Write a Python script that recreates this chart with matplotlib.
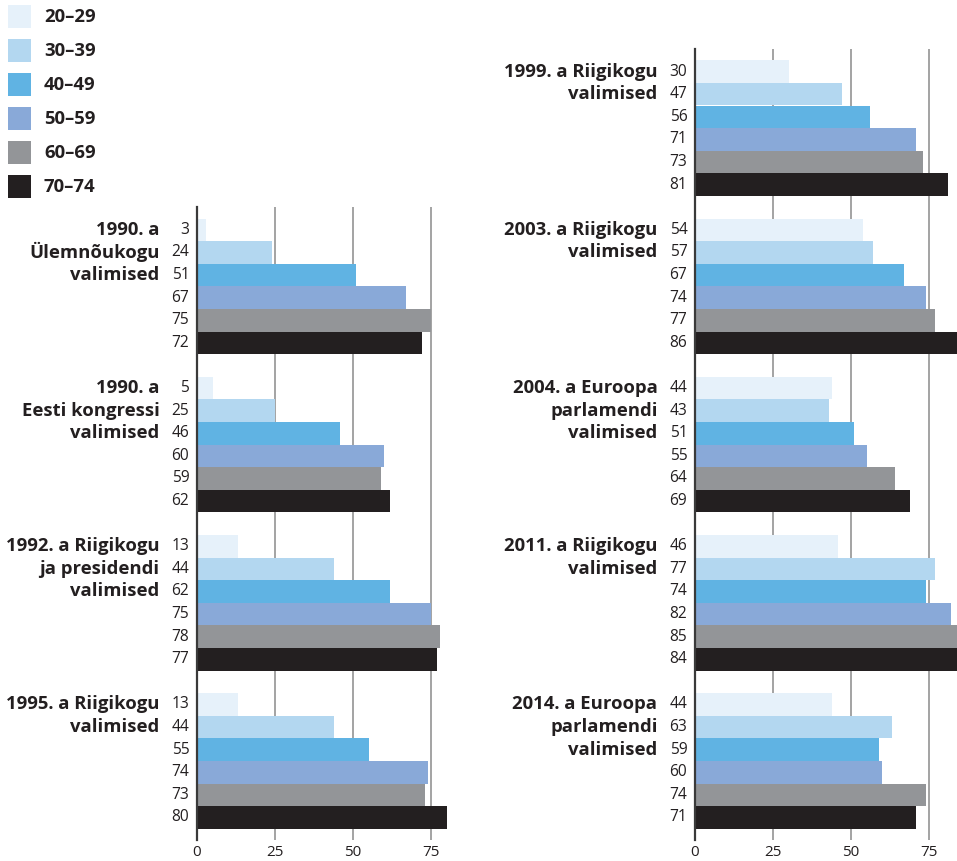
import matplotlib
matplotlib.use("Agg")
import matplotlib.pyplot as plt
from matplotlib.patches import Rectangle

plt.rcParams['font.family'] = ['Open Sans', 'DejaVu Sans']

age_groups = ["20–29", "30–39", "40–49", "50–59", "60–69", "70–74"]
colors = ["#e6f1fa", "#b3d7f0", "#60b3e3", "#89a9d8", "#939598", "#231f20"]

left_labels = [["1990. a", "Ülemnõukogu", "valimised"],
               ["1990. a", "Eesti kongressi", "valimised"],
               ["1992. a Riigikogu", "ja presidendi", "valimised"],
               ["1995. a Riigikogu", "valimised"]]
left_values = [[3, 24, 51, 67, 75, 72],
               [5, 25, 46, 60, 59, 62],
               [13, 44, 62, 75, 78, 77],
               [13, 44, 55, 74, 73, 80]]

right_labels = [["1999. a Riigikogu", "valimised"],
                ["2003. a Riigikogu", "valimised"],
                ["2004. a Euroopa", "parlamendi", "valimised"],
                ["2011. a Riigikogu", "valimised"],
                ["2014. a Euroopa", "parlamendi", "valimised"]]
right_values = [[30, 47, 56, 71, 73, 81],
                [54, 57, 67, 74, 77, 86],
                [44, 43, 51, 55, 64, 69],
                [46, 77, 74, 82, 85, 84],
                [44, 63, 59, 60, 74, 71]]

xticks = [0, 25, 50, 75]
TXT = "#231f20"

W, H = 957, 861
fig = plt.figure(figsize=(W / 100, H / 100), dpi=100)

def fx(px):
    return px / W

def fy(py):
    return 1 - py / H

def draw_panel(ax, labels, values, first_group):
    for g, (lab, vals) in enumerate(zip(labels, values)):
        base = (first_group + g) * 7
        ys = [base + i for i in range(len(vals))]
        ax.barh(ys, vals, height=1.0, color=colors, zorder=2, linewidth=0)
        for y, v in zip(ys, vals):
            ax.annotate(str(v), xy=(0, y), xytext=(-5.5, 0), textcoords='offset points',
                        ha='right', va='center', fontsize=11.2, color=TXT)
        for j, line in enumerate(lab):
            ax.annotate(line, xy=(0, base + j), xytext=(-27, 0), textcoords='offset points',
                        ha='right', va='center', fontsize=13.3, fontweight='bold', color=TXT,
                        annotation_clip=False)
    ax.set_xlim(0, 84)
    ax.set_ylim(34, first_group * 7 - 1)
    ax.set_xticks(xticks)
    ax.set_xticklabels([str(t) for t in xticks])
    ax.set_yticks([])
    ax.tick_params(axis='x', length=0, pad=3.5, labelsize=11, labelcolor=TXT)
    for s in ['top', 'right', 'bottom']:
        ax.spines[s].set_visible(False)
    ax.spines['left'].set_color('#3a3a3a')
    ax.spines['left'].set_linewidth(1.6)
    ax.spines['left'].set_zorder(3)
    ax.grid(axis='x', color='#8a8a8a', linewidth=1.1)
    ax.set_axisbelow(True)
    ax.patch.set_alpha(0)

top_r, bottom = 49, 840
top_l = 49 + 7 * (bottom - 49) / 35
ax_r = fig.add_axes([fx(695), fy(bottom), fx(262), (bottom - top_r) / H])
ax_l = fig.add_axes([fx(197), fy(bottom), fx(262), (bottom - top_l) / H])
draw_panel(ax_l, left_labels, left_values, 1)
draw_panel(ax_r, right_labels, right_values, 0)

# legend
for i, (name, c) in enumerate(zip(age_groups, colors)):
    y0 = 5 + 34 * i
    fig.patches.append(Rectangle((fx(8), fy(y0 + 23)), fx(23), 23 / H, facecolor=c,
                                 edgecolor='none', transform=fig.transFigure))
    fig.text(fx(44), fy(y0 + 11.5), name, ha='left', va='center', fontsize=13.3,
             fontweight='bold', color=TXT)

fig.savefig("out.png", dpi=100)
